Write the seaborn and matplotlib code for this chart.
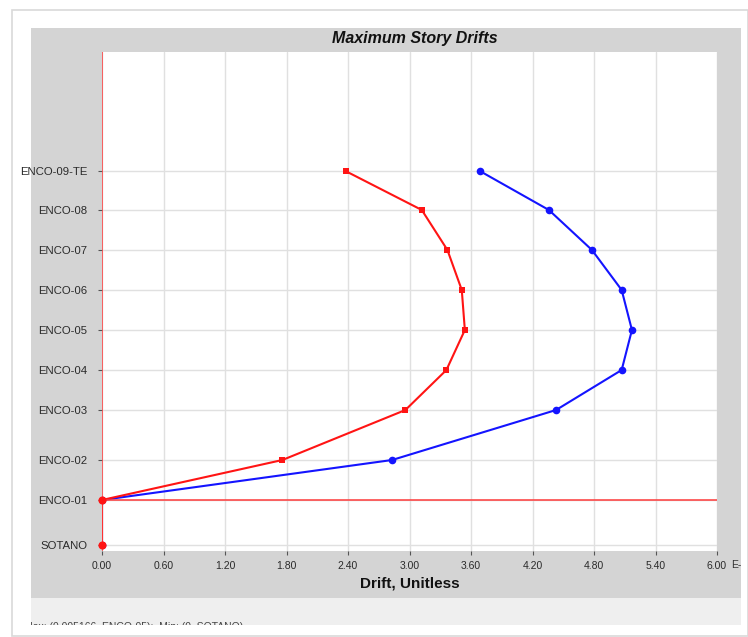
import matplotlib
matplotlib.use("Agg")
import matplotlib.pyplot as plt
from matplotlib.patches import Rectangle
import seaborn as sns
import pandas as pd

# ---- data ----
stories = ["SOTANO", "ENCO-01", "ENCO-02", "ENCO-03", "ENCO-04", "ENCO-05",
           "ENCO-06", "ENCO-07", "ENCO-08", "ENCO-09-TE"]
elevations = [0.0, 3.6, 6.8, 10.8, 14.0, 17.2, 20.4, 23.6, 26.8, 29.9]
drift_x = [0.0, 0.0, 2.83, 4.43, 5.07, 5.17, 5.07, 4.78, 4.36, 3.69]   # blue (E-3)
drift_y = [0.0, 0.0, 1.76, 2.96, 3.36, 3.54, 3.51, 3.37, 3.12, 2.38]   # red (E-3)
x_ticks = [0.00, 0.60, 1.20, 1.80, 2.40, 3.00, 3.60, 4.20, 4.80, 5.40, 6.00]
x_tick_labels = ["0.00", "0.60", "1.20", "1.80", "2.40", "3.00", "3.60",
                 "4.20", "4.80", "5.40", "6.00"]
title = "Maximum Story Drifts"
x_label = "Drift, Unitless"
footer = "Max: (0.005166, ENCO-05);  Min: (0, SOTANO)"

df_blue = pd.DataFrame({"drift": drift_x, "elev": elevations})
df_red = pd.DataFrame({"drift": drift_y, "elev": elevations})

sns.set_theme(style="white")
plt.rcParams["font.family"] = ["Liberation Sans", "DejaVu Sans"]

W, H = 748, 637
fig = plt.figure(figsize=(W / 100, H / 100), dpi=100)
fig.patch.set_facecolor("white")


def fr(x0, y0, x1, y1):
    return [x0 / W, 1 - y1 / H, (x1 - x0) / W, (y1 - y0) / H]


# outer card frame
fig.patches.append(Rectangle((12 / W, 1 - 636 / H), (W - 12) / W, (636 - 10) / H,
                             transform=fig.transFigure, facecolor="white",
                             edgecolor="#d9d9d9", lw=1.2, zorder=-10))

# gray panel
bg = fig.add_axes(fr(31, 28, 741, 598))
bg.set_facecolor("#d4d4d4")
bg.set_xlim(0, 1); bg.set_ylim(0, 1)
bg.set_xticks([]); bg.set_yticks([])
for s in bg.spines.values():
    s.set_visible(False)
bg.text((731 - 31) / 710, (598 - 565) / 570, "E-3", fontsize=7.5, color="#333333",
        ha="left", va="center", clip_on=True)

# footer strip
st = fig.add_axes(fr(31, 598, 741, 625))
st.set_facecolor("#efefef")
st.set_xlim(0, 1); st.set_ylim(0, 1)
st.set_xticks([]); st.set_yticks([])
for s in st.spines.values():
    s.set_visible(False)
st.text(-0.01, -0.06, footer, fontsize=7.5, color="#444444", ha="left",
        va="center", clip_on=True)

# main plot
ax = fig.add_axes(fr(102, 52, 717, 551))
ax.set_facecolor("white")
sns.lineplot(data=df_blue, x="drift", y="elev", orient="y", sort=False,
             estimator=None, color="#1414ff", lw=1.5, marker="o", markersize=5.5,
             markeredgewidth=0, ax=ax, zorder=3)
sns.lineplot(data=df_red, x="drift", y="elev", orient="y", sort=False,
             estimator=None, color="#ff1414", lw=1.5, marker="s", markersize=5,
             markeredgewidth=0, ax=ax, zorder=4)
base = df_red[df_red["drift"] == 0]
sns.scatterplot(data=base, x="drift", y="elev", color="#ff1414", s=34,
                marker="o", linewidth=0, ax=ax, zorder=6, clip_on=False)

ax.set_xlim(0, 6.0)
ax.set_ylim(-0.48, (545 - 52) / 12.5)
ax.set_xticks(x_ticks)
ax.set_xticklabels(x_tick_labels)
ax.set_yticks(elevations)
ax.set_yticklabels(stories)
ax.grid(True, color="#e0e0e0", lw=1)
for s in ax.spines.values():
    s.set_visible(False)
ax.axvline(0, color="#ff3b3b", lw=1.1, zorder=5)
ax.axhline(elevations[1], color="#ff3b3b", lw=1.1, zorder=5)
ax.tick_params(axis="y", which="major", left=True, length=3, width=0.8,
               color="#555555", pad=7.5, labelsize=8.2, labelcolor="#2a2a2a")
ax.tick_params(axis="x", which="major", bottom=True, length=3, width=0.8,
               color="#555555", pad=4, labelsize=7.5, labelcolor="#2a2a2a")
ax.set_xlabel("")
ax.set_ylabel("")

fig.text(415 / W, 1 - 38 / H, title, fontsize=11.5, fontweight="bold",
         fontstyle="italic", ha="center", va="center", color="#111111")
fig.text(410 / W, 1 - 583 / H, x_label, fontsize=11, fontweight="bold",
         ha="center", va="center", color="#111111")

fig.savefig("out.png", dpi=100, facecolor="white")
